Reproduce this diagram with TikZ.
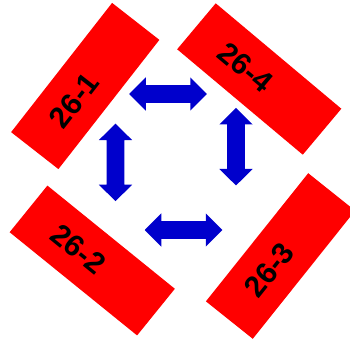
\documentclass[tikz,border=0pt]{standalone}
\usepackage{fontspec}
\setmainfont{Liberation Sans}
\usetikzlibrary{calc}
\definecolor{arrowblue}{RGB}{0,0,204}
\tikzset{
  redbox/.style={fill=red, draw=none, inner sep=0pt, minimum width=164pt, minimum height=60pt},
  boxlabel/.style={inner sep=0pt, text=black, font=\bfseries\fontsize{30}{34}\selectfont},
  dblarrow/.pic={\fill[arrowblue] (-38.75,0) -- (-22.25,16.7) -- (-22.25,8.8) -- (22.25,8.8) -- (22.25,16.7) -- (38.75,0) -- (22.25,-16.7) -- (22.25,-8.8) -- (-22.25,-8.8) -- (-22.25,-16.7) -- cycle;}
}
\begin{document}
\begin{tikzpicture}[x=1pt,y=1pt]
\useasboundingbox (0,0) rectangle (350,338);
\node[redbox, rotate=52] (r1) at (85.25,252) {};
\node[redbox, rotate=-40] (r4) at (259.25,259) {};
\node[redbox, rotate=-39] (r2) at (92.25,77.5) {};
\node[redbox, rotate=51.4] (r3) at (280.5,82) {};
\node[boxlabel, rotate=52] (t1) at ($(r1.center)!18pt!(r1.west)$) {26-1};
\node[boxlabel, rotate=-40] (t4) at ($(r4.center)!18pt!(r4.west)$) {26-4};
\node[boxlabel, rotate=-39] (t2) at ($(r2.center)!18pt!(r2.west)$) {26-2};
\node[boxlabel, rotate=51.4] (t3) at ($(r3.center)!18pt!(r3.west)$) {26-3};
\coordinate (atop) at (168,244);
\coordinate (aleft) at (115.5,175.6);
\coordinate (aright) at (236,191.3);
\coordinate (abottom) at (183.5,108);
\pic at (atop) {dblarrow};
\pic[rotate=90] at (aleft) {dblarrow};
\pic[rotate=90] at (aright) {dblarrow};
\pic at (abottom) {dblarrow};
\end{tikzpicture}
\end{document}
